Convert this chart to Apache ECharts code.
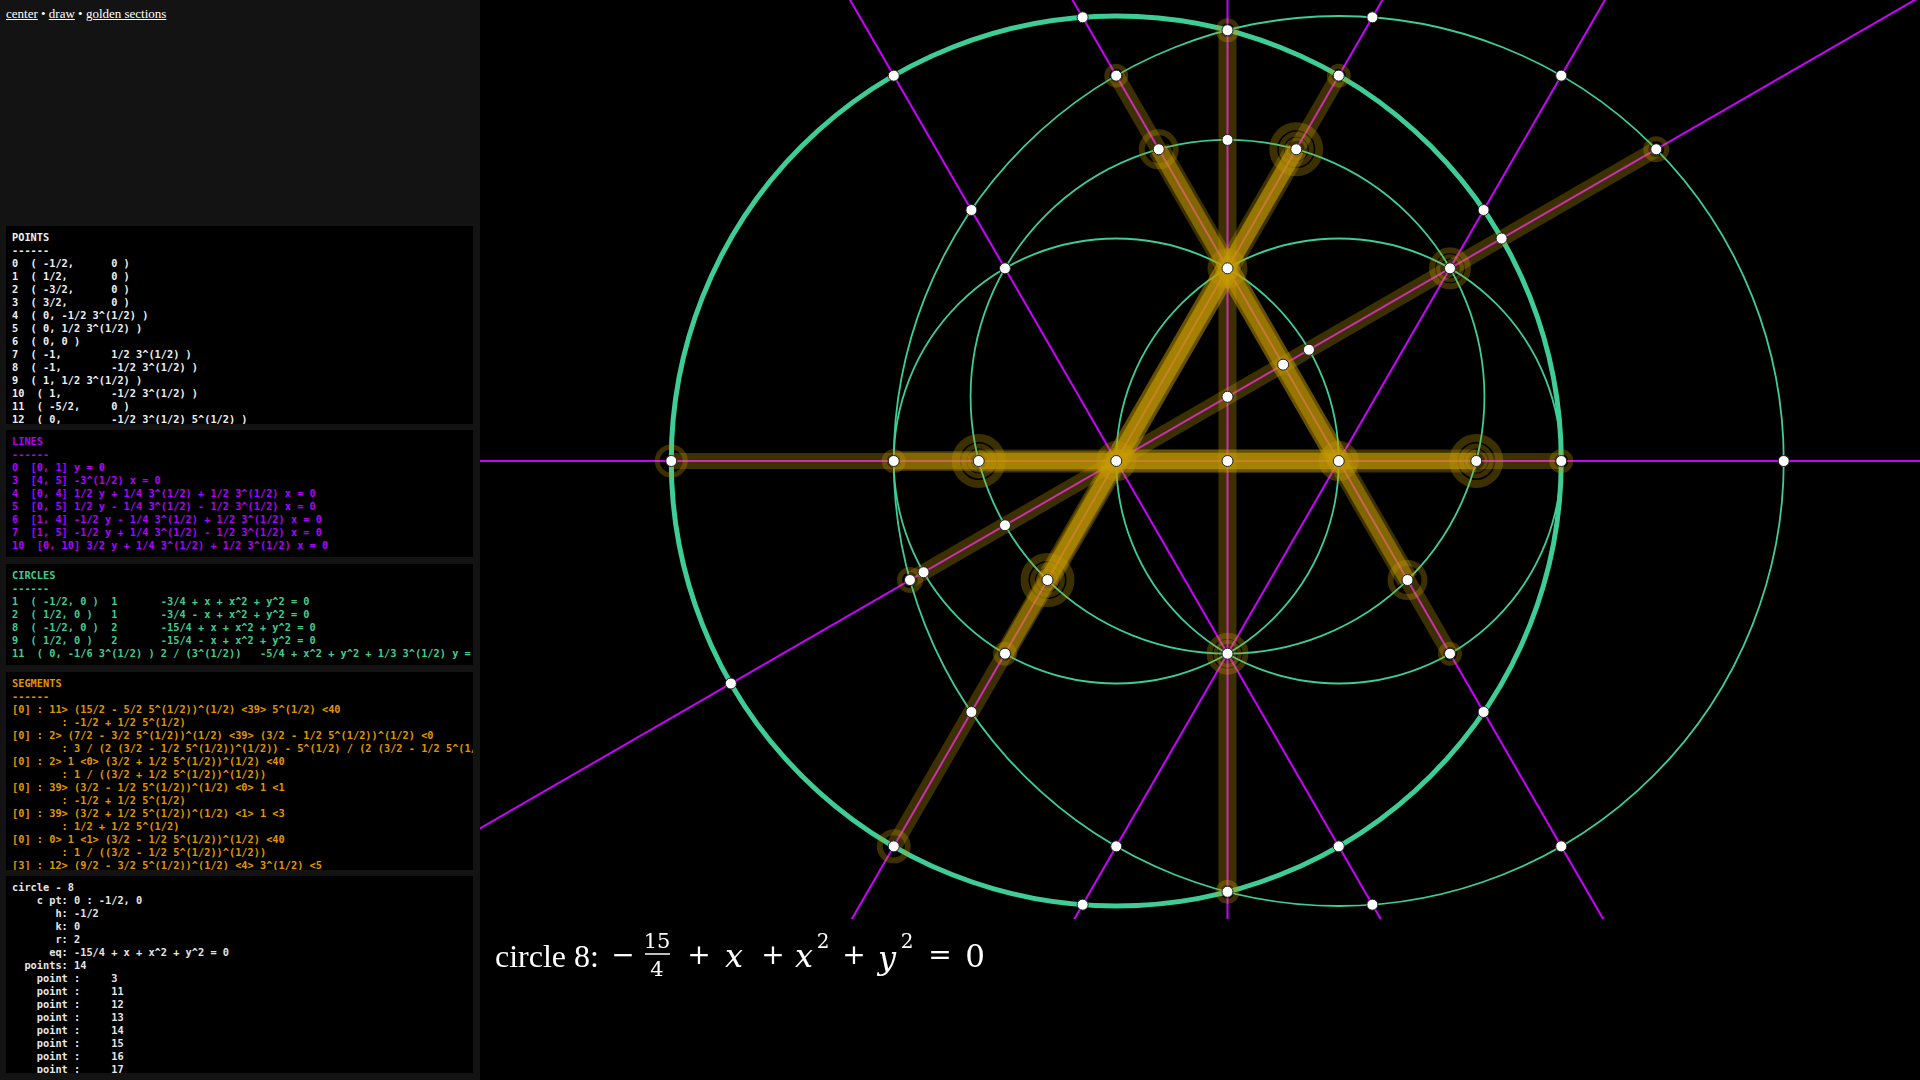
<!DOCTYPE html>
<html>
<head>
<meta charset="utf-8">
<title>golden sections</title>
<script src="https://cdn.jsdelivr.net/npm/echarts@6/dist/echarts.min.js"></script>
<style>
html,body{margin:0;padding:0;background:#000;width:1920px;height:1080px;overflow:hidden;}
#side{position:absolute;left:0;top:0;width:480px;height:1080px;background:#131313;}
#nav{position:absolute;left:6px;top:6px;font:13px "Liberation Serif",serif;color:#fff;line-height:16px;}
#nav a{color:#fff;text-decoration:underline;}
.box{position:absolute;left:6px;width:455px;padding:5px 6px;background:#000;overflow:hidden;white-space:pre;font:bold 10.3px/13px "DejaVu Sans Mono",monospace;}
#pts{top:226px;height:188px;color:#f0f0f0;}
#lns{top:430px;height:117px;color:#b000ff;}
#crc{top:564px;height:91px;color:#3ecf90;}
#seg{top:672px;height:188px;color:#e09600;}
#inf{top:876px;height:187px;color:#e6e6e6;}
#chart{position:absolute;left:480px;top:0;width:1440px;height:1080px;}
</style>
</head>
<body>
<div id="side">
<div id="nav"><a>center</a> &bull; <a>draw</a> &bull; <a>golden sections</a></div>
<div class="box" id="pts">POINTS
------
0  ( -1/2,      0 )
1  ( 1/2,       0 )
2  ( -3/2,      0 )
3  ( 3/2,       0 )
4  ( 0, -1/2 3^(1/2) )
5  ( 0, 1/2 3^(1/2) )
6  ( 0, 0 )
7  ( -1,        1/2 3^(1/2) )
8  ( -1,        -1/2 3^(1/2) )
9  ( 1, 1/2 3^(1/2) )
10  ( 1,        -1/2 3^(1/2) )
11  ( -5/2,     0 )
12  ( 0,        -1/2 3^(1/2) 5^(1/2) )</div>
<div class="box" id="lns">LINES
------
0  [0, 1] y = 0
3  [4, 5] -3^(1/2) x = 0
4  [0, 4] 1/2 y + 1/4 3^(1/2) + 1/2 3^(1/2) x = 0
5  [0, 5] 1/2 y - 1/4 3^(1/2) - 1/2 3^(1/2) x = 0
6  [1, 4] -1/2 y - 1/4 3^(1/2) + 1/2 3^(1/2) x = 0
7  [1, 5] -1/2 y + 1/4 3^(1/2) - 1/2 3^(1/2) x = 0
10  [0, 10] 3/2 y + 1/4 3^(1/2) + 1/2 3^(1/2) x = 0</div>
<div class="box" id="crc">CIRCLES
------
1  ( -1/2, 0 )  1       -3/4 + x + x^2 + y^2 = 0
2  ( 1/2, 0 )   1       -3/4 - x + x^2 + y^2 = 0
8  ( -1/2, 0 )  2       -15/4 + x + x^2 + y^2 = 0
9  ( 1/2, 0 )   2       -15/4 - x + x^2 + y^2 = 0
11  ( 0, -1/6 3^(1/2) ) 2 / (3^(1/2))   -5/4 + x^2 + y^2 + 1/3 3^(1/2) y = 0</div>
<div class="box" id="seg">SEGMENTS
------
[0] : 11&gt; (15/2 - 5/2 5^(1/2))^(1/2) &lt;39&gt; 5^(1/2) &lt;40
        : -1/2 + 1/2 5^(1/2)
[0] : 2&gt; (7/2 - 3/2 5^(1/2))^(1/2) &lt;39&gt; (3/2 - 1/2 5^(1/2))^(1/2) &lt;0
        : 3 / (2 (3/2 - 1/2 5^(1/2))^(1/2)) - 5^(1/2) / (2 (3/2 - 1/2 5^(1/2))^(1/2))
[0] : 2&gt; 1 &lt;0&gt; (3/2 + 1/2 5^(1/2))^(1/2) &lt;40
        : 1 / ((3/2 + 1/2 5^(1/2))^(1/2))
[0] : 39&gt; (3/2 - 1/2 5^(1/2))^(1/2) &lt;0&gt; 1 &lt;1
        : -1/2 + 1/2 5^(1/2)
[0] : 39&gt; (3/2 + 1/2 5^(1/2))^(1/2) &lt;1&gt; 1 &lt;3
        : 1/2 + 1/2 5^(1/2)
[0] : 0&gt; 1 &lt;1&gt; (3/2 - 1/2 5^(1/2))^(1/2) &lt;40
        : 1 / ((3/2 - 1/2 5^(1/2))^(1/2))
[3] : 12&gt; (9/2 - 3/2 5^(1/2))^(1/2) &lt;4&gt; 3^(1/2) &lt;5</div>
<div class="box" id="inf">circle - 8
    c pt: 0 : -1/2, 0
       h: -1/2
       k: 0
       r: 2
      eq: -15/4 + x + x^2 + y^2 = 0
  points: 14
    point :     3
    point :     11
    point :     12
    point :     13
    point :     14
    point :     15
    point :     16
    point :     17</div>
</div>
<div id="chart"></div>
<script>
// named points 0..12 (screen y grows downward, like the source drawing)
var basePts = [[-0.5,0],[0.5,0],[-1.5,0],[1.5,0],[0,-0.866],[0,0.866],[0,0],
               [-1,0.866],[-1,-0.866],[1,0.866],[1,-0.866],[-2.5,0],[0,-1.936]];

// lines, each through two named points
var lineIds = [0,3,4,5,6,7,10];
var linePairs = [[0,1],[4,5],[0,4],[0,5],[1,4],[1,5],[0,10]];

// circles
var circleIds = [1,2,8,9,11];
var circleCx = [-0.5,0.5,-0.5,0.5,0];
var circleCy = [0,0,0,0,-0.2887];
var circleR = [1,1,2,2,1.1547];
var activeCircle = 8;

// every intersection point drawn as a dot
var dotX = [-2.5,-1.5,-1.118,-0.5,0,0.5,1.118,1.5,2.5,
            0,0,0,0,0,0,
            0.651,0.5,0.309,-0.809,-1,-1.151,-1.5,
            -0.651,-0.5,-0.309,0.809,1,1.151,1.5,
            -1.5,-1.151,-1,0.5,0.651,
            1.5,1.151,1,-0.5,-0.651,
            1.927,1.232,0.366,0.25,-1,-1.366,-1.427,-2.232];
var dotY = [0,0,0,0,0,0,0,0,0,
            -1.936,-1.443,-0.866,-0.2887,0.866,1.936,
            -1.994,-1.732,-1.401,0.535,0.866,1.128,1.732,
            -1.994,-1.732,-1.401,0.535,0.866,1.128,1.732,
            -1.732,-1.128,-0.866,1.732,1.994,
            -1.732,-1.128,-0.866,1.732,1.994,
            -1.401,-1,-0.5,-0.433,0.2887,0.5,0.535,1];

// golden sections (from / to)
var sectionFrom = [[-2.5,0],[-1.5,0],[-1.5,0],[-1.118,0],[-1.118,0],[-0.5,0],
                   [-1.5,1.732],[-1,0.866],[-1,0.866],[-0.809,0.535],[-0.809,0.535],[-0.5,0],
                   [1,0.866],[0.809,0.535],[0.809,0.535],[0.5,0],
                   [0,-1.936],[-1.427,0.535]];
var sectionTo   = [[1.118,0],[-0.5,0],[1.118,0],[0.5,0],[1.5,0],[1.118,0],
                   [0.309,-1.401],[-0.5,0],[0.309,-1.401],[0,-0.866],[0.5,-1.732],[0.309,-1.401],
                   [-0.309,-1.401],[-0.5,-1.732],[0,-0.866],[-0.309,-1.401],
                   [0,1.936],[1.927,-1.401]];

// points that carry a section ring
var ringPts = [[-2.5,0],[-1.5,0],[-1.118,0],[-1.118,0],[-1.118,0],[-0.5,0],[-0.5,0],
               [0.5,0],[0.5,0],[1.118,0],[1.118,0],[1.118,0],[1.5,0],
               [0,-0.866],[0,-0.866],[0.309,-1.401],[0.309,-1.401],[0.309,-1.401],
               [-0.309,-1.401],[-0.5,-1.732],[0.5,-1.732],[0,-1.936],
               [1,-0.866],[1,-0.866],[1.927,-1.401],[-1.427,0.535],
               [-0.809,0.535],[-0.809,0.535],[-0.809,0.535],[0.809,0.535],
               [-1,0.866],[1,0.866],[0,0.866],[0,0.866],[-1.5,1.732],[0,1.936]];

// styles
var sectionW = [16,20,17,23,16,23, 16,20,17,23,16,23, 16,16,22,22, 18,16];
var ringSize = [28,19,46,30,20,34,22, 34,22,46,30,20,19, 34,22,46,30,20,
                34,19,19,19, 36,24,21,21, 46,30,20,34, 19,19,36,24,28,19];
var ringW    = [5,5,8,5,3,6,5, 6,5,8,5,3,5, 6,5,8,5,3,
                6,5,5,5, 6,4,5,5, 8,5,3,6, 5,5,6,4,6,5];

var GOLD = 'rgba(200,155,0,0.3)';
var MAGENTA = '#cc00ff';
var GREEN = '#3ecd96';

var X0 = 1227.5, Y0 = 461, U = 222.5;
var gridW = 1440, gridH = 918;

function farEnds(a, b){
  var dx = b[0]-a[0], dy = b[1]-a[1], L = Math.sqrt(dx*dx+dy*dy);
  return [[a[0]-dx/L*12, a[1]-dy/L*12],[a[0]+dx/L*12, a[1]+dy/L*12]];
}

var chart = echarts.init(document.getElementById('chart'));
var series = [];

series.push({
  type:'custom', coordinateSystem:'cartesian2d', z:1, silent:true,
  data: circleIds.map(function(id,i){ return [circleCx[i], circleCy[i], circleR[i], id]; }),
  renderItem:function(params, api){
    var c = api.coord([api.value(0), api.value(1)]);
    var r = api.size([api.value(2), 0])[0];
    return {type:'circle', shape:{cx:c[0], cy:c[1], r:r},
      style:{fill:'none', stroke:GREEN, lineWidth: api.value(3)===activeCircle ? 5 : 1.8}};
  }
});

linePairs.forEach(function(p, i){
  series.push({
    type:'line', name:'line '+lineIds[i], z:2, silent:true, clip:true,
    symbol:'none', data: farEnds(basePts[p[0]], basePts[p[1]]),
    lineStyle:{color:MAGENTA, width:2}
  });
});

series.push({
  type:'custom', coordinateSystem:'cartesian2d', z:3, silent:true,
  data: sectionFrom.map(function(a,i){ return [a[0], a[1], sectionTo[i][0], sectionTo[i][1], i]; }),
  renderItem:function(params, api){
    var a = api.coord([api.value(0), api.value(1)]);
    var b = api.coord([api.value(2), api.value(3)]);
    return {type:'line', shape:{x1:a[0], y1:a[1], x2:b[0], y2:b[1]},
      style:{stroke:GOLD, lineWidth:sectionW[api.value(4)], lineCap:'butt'}};
  }
});

series.push({
  type:'custom', coordinateSystem:'cartesian2d', z:4, silent:true,
  data: ringPts.map(function(p,i){ return [p[0], p[1], i]; }),
  renderItem:function(params, api){
    var c = api.coord([api.value(0), api.value(1)]);
    var k = api.value(2);
    return {type:'circle', shape:{cx:c[0], cy:c[1], r:ringSize[k]/2},
      style:{fill:'none', stroke:GOLD, lineWidth:ringW[k]}};
  }
});

series.push({
  type:'scatter', z:5, silent:true,
  data: dotX.map(function(x,i){ return [x, dotY[i]]; }),
  symbolSize:11,
  itemStyle:{color:'#fff', borderColor:'#222', borderWidth:1, opacity:1}
});

var SERIF = '"Liberation Serif", serif';
var MATH = '"DejaVu Serif", serif';
function mtext(t, x, y, size, fam, italic, align){
  return {type:'text', x:x-480, y:y, z:10,
    style:{text:t, fill:'#fff', font:(italic?'italic ':'')+size+'px '+fam,
      align:align||'center', textAlign:align||'center', verticalAlign:'middle', textVerticalAlign:'middle'}};
}

chart.setOption({
  backgroundColor:'#000',
  animation:false,
  grid:{left:0, top:0, width:gridW, height:gridH, containLabel:false},
  xAxis:{type:'value', min:(480-X0)/U, max:(1920-X0)/U, show:false},
  yAxis:{type:'value', inverse:true, min:-Y0/U, max:(gridH-Y0)/U, show:false},
  series:series,
  graphic:[
    mtext('circle 8:', 495, 959, 32, SERIF, false, 'left'),
    mtext('\u2212', 623, 957, 28, MATH),
    mtext('15', 657, 943, 21, MATH),
    {type:'line', shape:{x1:645-480, y1:954, x2:670-480, y2:954}, style:{stroke:'#fff', lineWidth:1.5}},
    mtext('4', 657, 971, 21, MATH),
    mtext('+', 699, 957, 28, MATH),
    mtext('x', 734, 959, 32, MATH, true),
    mtext('+', 773, 957, 28, MATH),
    mtext('x', 804, 959, 32, MATH, true),
    mtext('2', 823, 943, 20, MATH),
    mtext('+', 854, 957, 28, MATH),
    mtext('y', 887, 961, 32, MATH, true),
    mtext('2', 907, 943, 20, MATH),
    mtext('=', 940, 957, 28, MATH),
    mtext('0', 975, 959, 31, MATH)
  ]
});
</script>
</body>
</html>
